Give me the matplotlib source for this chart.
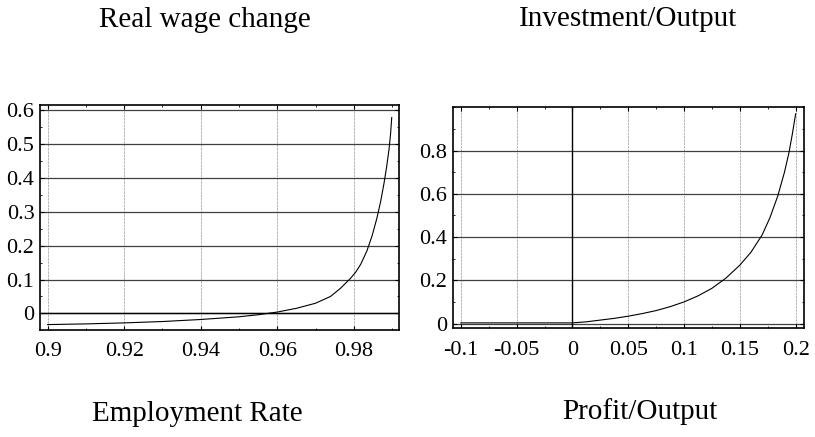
import matplotlib
matplotlib.use("Agg")
import matplotlib.pyplot as plt
from matplotlib.ticker import AutoMinorLocator

plt.rcParams['font.family'] = ['Liberation Serif', 'DejaVu Serif']

# ---- data ----
emp_rate = [0.90, 0.91, 0.92, 0.93, 0.94, 0.95, 0.955, 0.96, 0.965, 0.97,
            0.9739, 0.9765, 0.9791, 0.9805, 0.9818, 0.9834, 0.9848, 0.9860,
            0.9870, 0.9879, 0.9886, 0.9892, 0.9896, 0.9899]
wage_change = [-0.033, -0.031, -0.028, -0.024, -0.018, -0.010, -0.004, 0.004,
               0.015, 0.030, 0.050, 0.074, 0.103, 0.122, 0.145, 0.184, 0.23,
               0.28, 0.33, 0.385, 0.435, 0.485, 0.53, 0.578]

profit_out = [-0.1, -0.05, 0.0, 0.0125, 0.025, 0.0375, 0.05, 0.0625, 0.075,
              0.0875, 0.1, 0.1125, 0.125, 0.1375, 0.15, 0.16, 0.17, 0.177,
              0.184, 0.19, 0.194, 0.197, 0.2]
invest_out = [0.003, 0.003, 0.003, 0.008, 0.016, 0.024, 0.034, 0.046, 0.06,
              0.078, 0.10, 0.128, 0.163, 0.21, 0.27, 0.33, 0.41, 0.49,
              0.59, 0.70, 0.79, 0.875, 0.97]

left_xticks = [0.9, 0.92, 0.94, 0.96, 0.98]
left_xlabels = ["0.9", "0.92", "0.94", "0.96", "0.98"]
left_yticks = [0, 0.1, 0.2, 0.3, 0.4, 0.5, 0.6]
left_ylabels = ["0", "0.1", "0.2", "0.3", "0.4", "0.5", "0.6"]

right_xticks = [-0.1, -0.05, 0, 0.05, 0.1, 0.15, 0.2]
right_xlabels = ["-0.1", "-0.05", "0", "0.05", "0.1", "0.15", "0.2"]
right_yticks = [0, 0.2, 0.4, 0.6, 0.8]
right_ylabels = ["0", "0.2", "0.4", "0.6", "0.8"]

titles = ["Real wage change", "Investment/Output"]
xlabels = ["Employment Rate", "Profit/Output"]

W, H = 815, 437
fig = plt.figure(figsize=(W / 100, H / 100), dpi=100)

def box(l, t, r, b):
    return [l / W, 1 - b / H, (r - l) / W, (b - t) / H]

ax1 = fig.add_axes(box(40, 105, 399, 330))
ax2 = fig.add_axes(box(453, 106.7, 804, 328.3))

def style(ax, xt, xl, yt, yl, xlim, ylim):
    ax.set_xlim(*xlim)
    ax.set_ylim(*ylim)
    ax.set_xticks(xt)
    ax.set_xticklabels(xl)
    ax.set_yticks(yt)
    ax.set_yticklabels(yl)
    for t in xt:
        ax.axvline(t, color='#a8a8a8', lw=0.6, ls=(0, (3, 1)), zorder=1)
    for t in yt:
        ax.axhline(t, color='#404040', lw=0.9, zorder=1)
    ax.xaxis.set_minor_locator(AutoMinorLocator(2))
    ax.yaxis.set_minor_locator(AutoMinorLocator(2))
    ax.tick_params(which='major', direction='in', length=3, width=0.8,
                   top=True, right=True, labelsize=16, pad=9, colors='black')
    ax.tick_params(which='minor', direction='in', length=1.5, width=0.6,
                   top=True, right=True)
    ax.tick_params(axis='y', pad=4)
    for s in ax.spines.values():
        s.set_linewidth(1.2)
        s.set_color('black')

style(ax1, left_xticks, left_xlabels, left_yticks, left_ylabels,
      (0.898, 0.9918), (-0.049, 0.615))
ax1.axhline(0, color='black', lw=1.0, zorder=1.5)
ax1.plot(emp_rate, wage_change, color='black', lw=0.8, zorder=3)

style(ax2, right_xticks, right_xlabels, right_yticks, right_ylabels,
      (-0.107, 0.2075), (-0.022, 1.003))
ax2.axvline(0, color='black', lw=1.0, zorder=1.5)
ax2.plot(profit_out, invest_out, color='black', lw=0.8, zorder=3)

fig.text(205 / W, 1 - 20 / H, titles[0], ha='center', va='center', fontsize=21)
fig.text(628 / W, 1 - 19 / H, titles[1], ha='center', va='center', fontsize=21)
fig.text(197 / W, 1 - 414 / H, xlabels[0], ha='center', va='center', fontsize=21)
fig.text(640 / W, 1 - 412 / H, xlabels[1], ha='center', va='center', fontsize=21)

fig.savefig("out.png", dpi=100)
